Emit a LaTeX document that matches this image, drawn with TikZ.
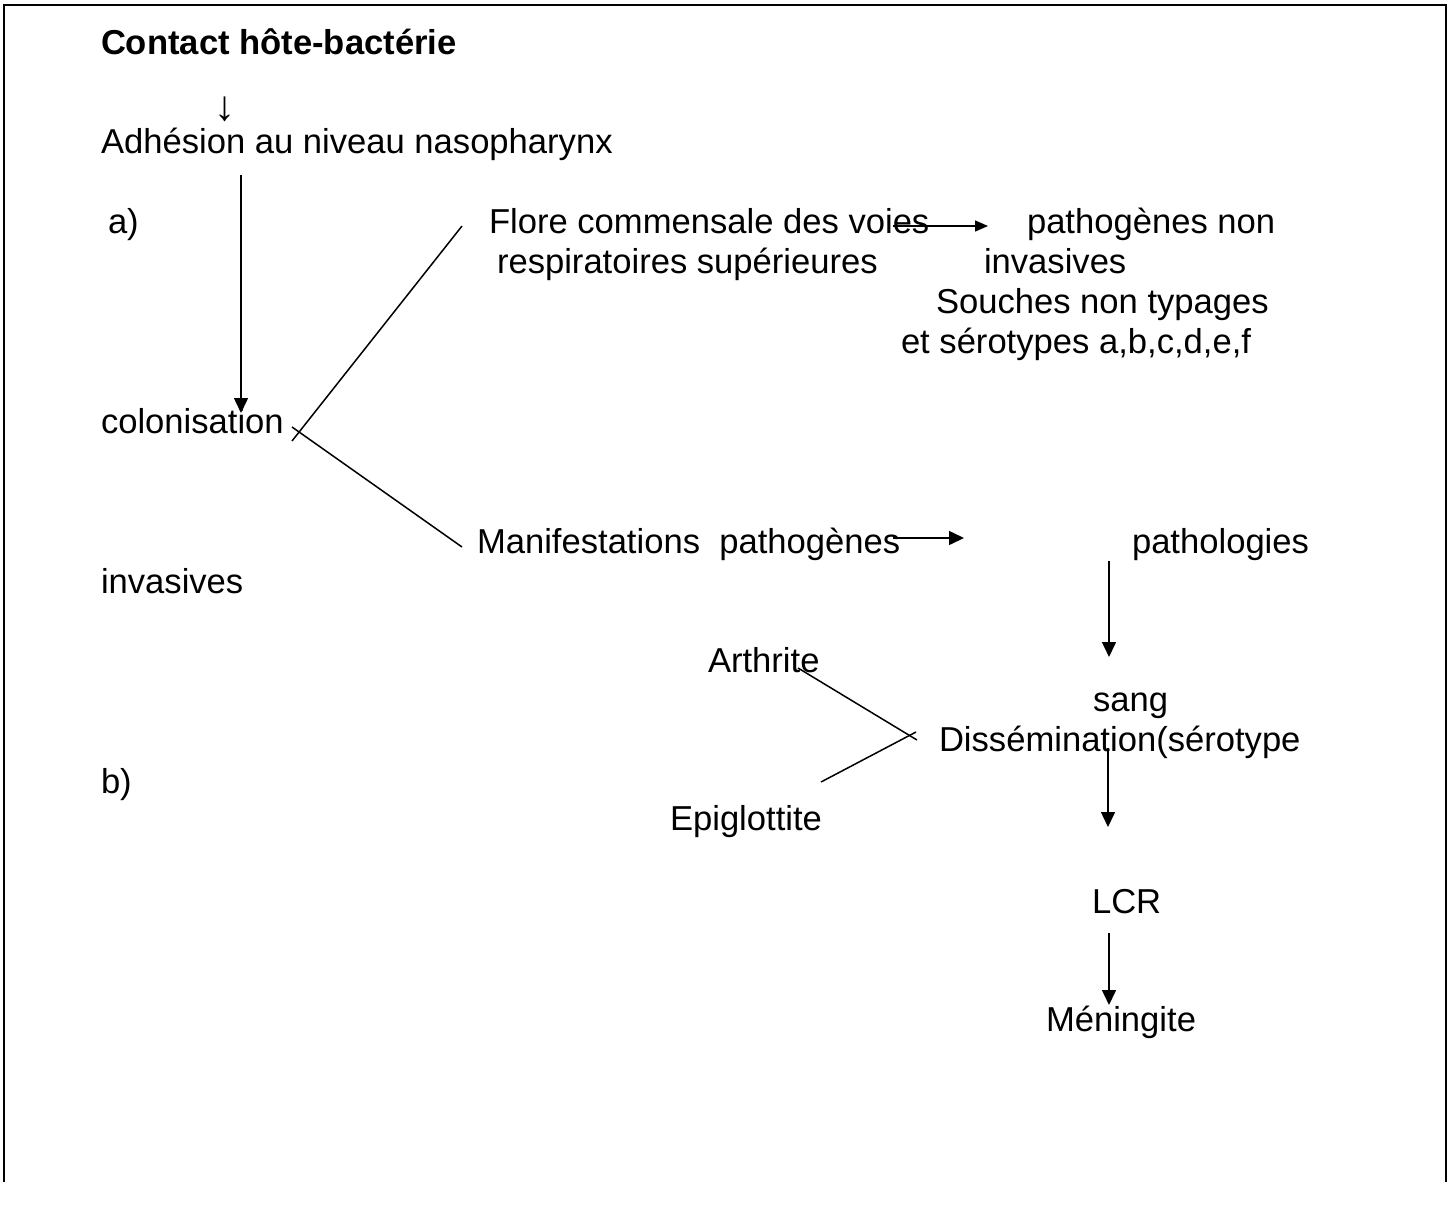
\documentclass[tikz,border=0pt]{standalone}
\usepackage{fontspec}
\setmainfont{Liberation Sans}
\usetikzlibrary{arrows.meta}
\begin{document}
\begin{tikzpicture}[x=1pt,y=1pt,
  txt/.style={anchor=base west, inner sep=0pt, outer sep=0pt, font=\fontsize{34.6}{40}\selectfont},
  tbold/.style={txt, font=\fontsize{34.6}{40}\selectfont\bfseries},
  conn/.style={line width=1.5pt},
  arr/.style={conn, -{Triangle[length=15pt,width=14pt]}},
  sarr/.style={conn, -{Triangle[length=13pt,width=11pt]}},
  frame/.style={line width=2pt}]
\useasboundingbox (0,0) rectangle (1453,-1208);
\draw[frame] (4,-1182) -- (4,-5) -- (1446,-5) -- (1446,-1182);
% texts
\node[tbold] (title) at (101,-54) {Contact hôte-bactérie};
\node[txt, anchor=base, font=\fontsize{42}{48}\selectfont] (darr) at (225,-120) {↓};
\node[txt] (adh) at (101,-153) {Adhésion au niveau nasopharynx};
\node[txt] (a) at (108,-233) {a)};
\node[txt] (flore1) at (489,-233) {Flore commensale des voies};
\node[txt] (flore2) at (497,-273) {respiratoires supérieures};
\node[txt] (pnon1) at (1027,-233) {pathogènes non};
\node[txt] (pnon2) at (984,-273) {invasives};
\node[txt] (souches) at (936,-313) {Souches non typages};
\node[txt] (sero) at (901,-353) {et sérotypes a,b,c,d,e,f};
\node[txt] (colo) at (101,-433) {colonisation};
\node[txt] (manif) at (477,-553) {Manifestations\ \ pathogènes};
\node[txt] (patho) at (1132,-553) {pathologies};
\node[txt] (inv) at (101,-593) {invasives};
\node[txt] (arth) at (708,-672) {Arthrite};
\node[txt] (sang) at (1093,-711) {sang};
\node[txt] (diss) at (939,-751) {Dissémination(sérotype};
\node[txt] (b) at (101,-793) {b)};
\node[txt] (epi) at (670,-830) {Epiglottite};
\node[txt] (lcr) at (1092,-913) {LCR};
\node[txt] (men) at (1046,-1031) {Méningite};
% connector end points
\coordinate (c1s) at (241,-175);
\coordinate (c1e) at (241,-413);
\coordinate (fb1) at (462,-226);
\coordinate (fb2) at (292,-441);
\coordinate (mb1) at (292,-427);
\coordinate (mb2) at (462,-547);
\coordinate (v1) at (893,-226);
\coordinate (v2) at (988,-226);
\coordinate (m1) at (893,-538);
\coordinate (m2) at (964,-538);
\coordinate (p1) at (1109,-561);
\coordinate (p2) at (1109,-657);
\coordinate (d1) at (1108,-748);
\coordinate (d2) at (1108,-827);
\coordinate (l1) at (1109,-933);
\coordinate (l2) at (1109,-1005);
\coordinate (ar1) at (798,-668);
\coordinate (ar2) at (917,-740);
\coordinate (ep1) at (916,-732);
\coordinate (ep2) at (821,-782);
% connectors
\draw[arr] (c1s) -- (c1e);
\draw[conn] (fb1) -- (fb2);
\draw[conn] (mb1) -- (mb2);
\draw[sarr] (v1) -- (v2);
\draw[arr] (m1) -- (m2);
\draw[arr] (p1) -- (p2);
\draw[arr] (d1) -- (d2);
\draw[arr] (l1) -- (l2);
\draw[conn] (ar1) -- (ar2);
\draw[conn] (ep1) -- (ep2);
\end{tikzpicture}
\end{document}
